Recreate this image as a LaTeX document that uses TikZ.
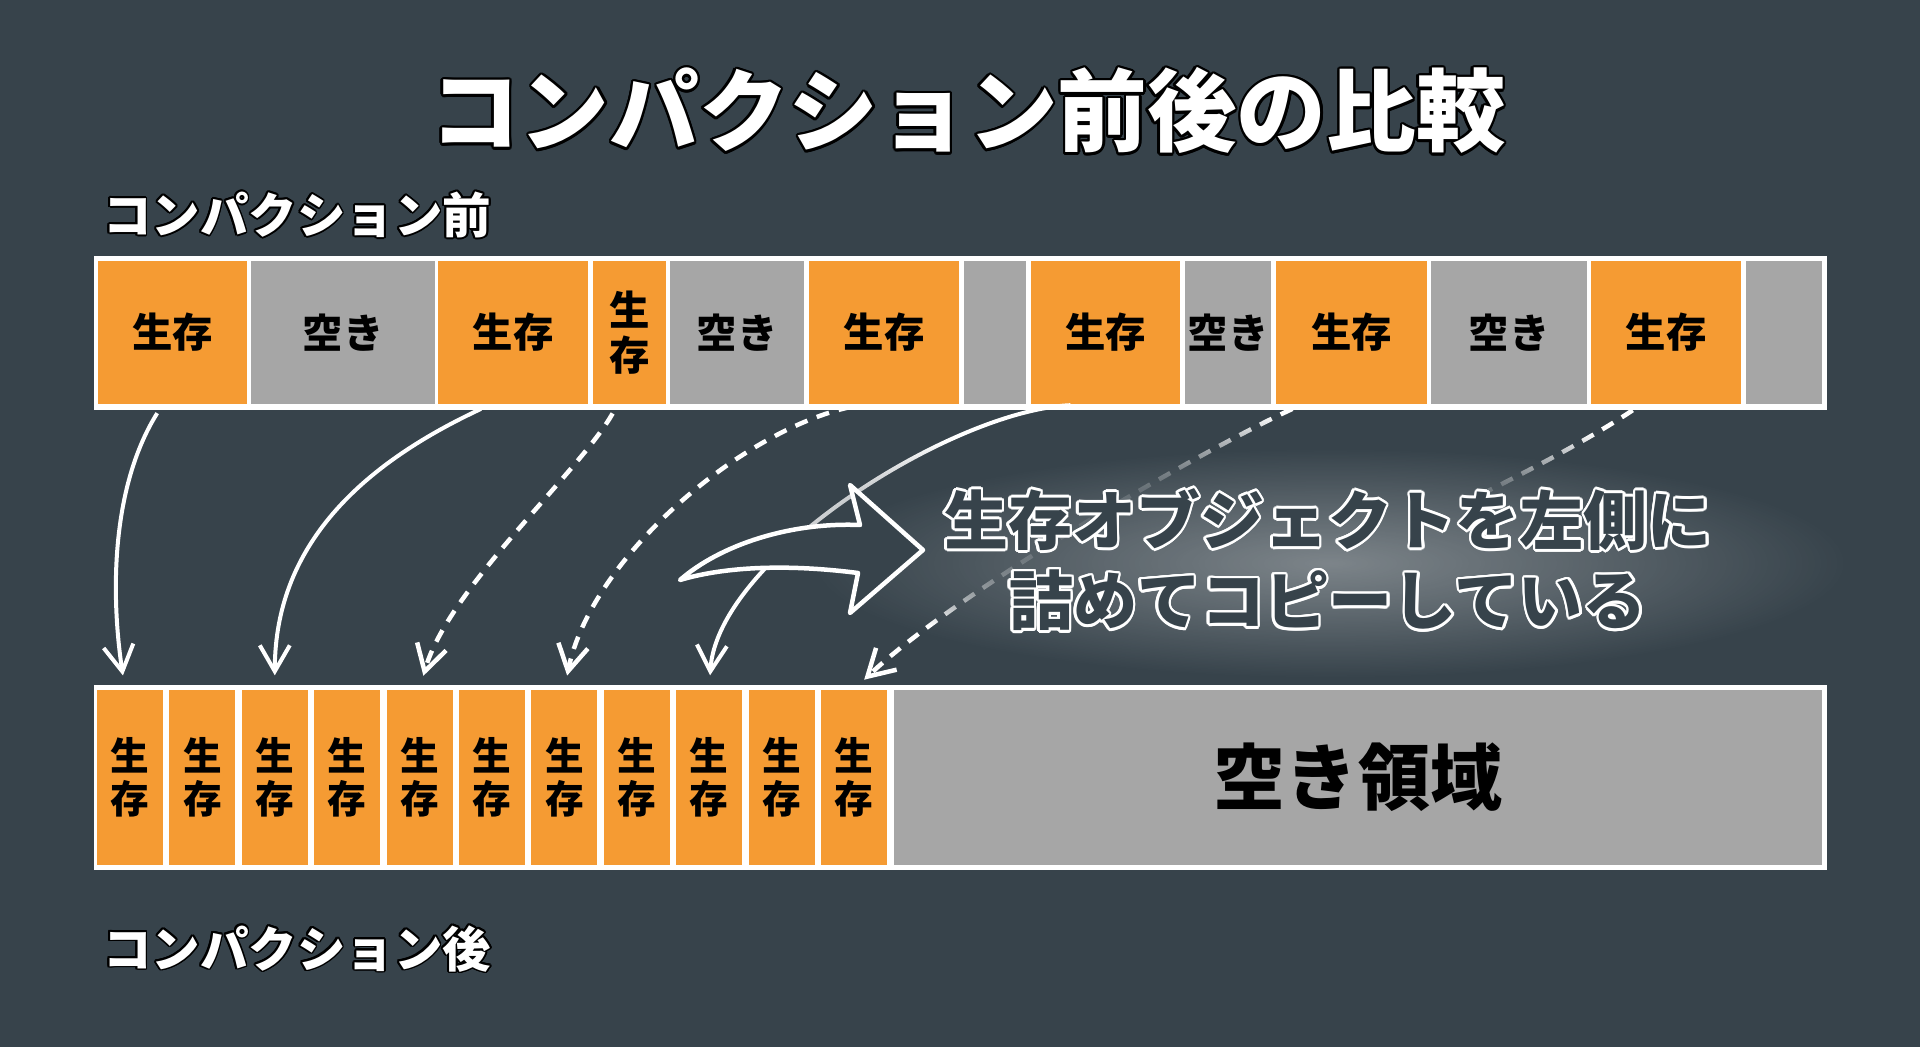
\documentclass[tikz,border=0pt]{standalone}
\usepackage{fontspec}
\usepackage{xcolor}
\usepackage{contour}
\newfontfamily\jp{Noto Sans CJK JP}
\usetikzlibrary{positioning, arrows.meta, fadings}

\definecolor{board}{HTML}{37434B}
\definecolor{liveorange}{HTML}{F59B33}
\definecolor{freegray}{HTML}{A6A6A6}

\tikzfading[name=glowfade, inner color=transparent!0, outer color=transparent!100]

\tikzset{
  cell/.style={draw=none, inner sep=0pt, text=black, align=center,
    font=\jp\bfseries\fontsize{11.5}{13}\selectfont},
  live cell/.style={cell, fill=liveorange},
  free cell/.style={cell, fill=freegray},
  heap/.style={fill=white, draw=none, inner sep=0pt},
  sublabel/.style={inner sep=0pt, text=white, font=\jp\bfseries\fontsize{13.8}{16}\selectfont},
  movearrow/.style={draw=white, line width=0.4mm, shorten <=1mm, shorten >=1.4mm,
    -{Straight Barb[length=2.6mm, width=3mm]}},
  copyarrow/.style={movearrow, line width=0.45mm, dash pattern=on 1.3mm off 1mm},
}

\begin{document}
\begin{tikzpicture}[x=0.1mm, y=-0.1mm]
  \fill[board] (0,0) rectangle (1920,1047);
  \useasboundingbox (0,0) rectangle (1920,1047);

  \node[inner sep=0pt, text=white, font=\jp\bfseries\fontsize{25.5}{30}\selectfont] (title) at (968,112)
       {\contourlength{0.7pt}\contour{black}{コンパクション前後の比較}};

  % before compaction
  \node[heap, minimum width=173.3mm, minimum height=15.4mm] (before) at (960.5,333) {};
  \foreach \a/\b/\k/\t [count=\i] in {98/247/live/生存, 251/435/free/空き, 438/588/live/生存,
      593/666/live/{生\\存}, 670/804/free/空き, 809/959/live/生存, 964/1026/free/{},
      1031/1180/live/生存, 1185/1271/free/空き, 1276/1427/live/生存, 1431/1587/free/空き,
      1591/1741/live/生存, 1746/1822/free/{}}
    \node[\k\space cell, minimum width={(\b-\a)*0.1mm}, minimum height=14.3mm] (t\i) at ({(\a+\b)/2},332.5) {\t};

  \node[sublabel, above right=1.5mm and 0.9mm of before.north west] (beforelbl)
       {\contourlength{0.5pt}\contour{black}{コンパクション前}};

  % after compaction
  \node[heap, minimum width=173.3mm, minimum height=18.5mm] (after) at (960.5,777.5) {};
  \foreach \i in {1,...,11}
    \node[live cell, font=\jp\bfseries\fontsize{11}{12.3}\selectfont, minimum width=6.6mm, minimum height=17.5mm]
      (b\i) at ({130+(\i-1)*72.4},777.5) {生\\存};
  \node[free cell, font=\jp\bfseries\fontsize{20.5}{24}\selectfont, minimum width=92.8mm, minimum height=17.5mm]
    (rest) at (1358,777.5) {空き領域};

  \node[sublabel, below right=5.4mm and 0.9mm of after.south west] (afterlbl)
       {\contourlength{0.5pt}\contour{black}{コンパクション後}};

  % moves
  \coordinate (lost) at (1450,510);
  \draw[movearrow] ([xshift=-1mm]t1.south) .. controls +(-50,80) and +(-15,-100) .. ([xshift=-0.5mm]b1.north);
  \draw[movearrow] ([xshift=-2.3mm]t3.south) .. controls +(-120,56) and +(0,-150) .. (b3.north);
  \draw[copyarrow] ([xshift=-1.2mm]t4.south) .. controls +(-37,66) and +(28,-100) .. (b5.north);
  \draw[copyarrow] ([xshift=-2.3mm]t6.south) .. controls +(-121,26) and +(26,-130) .. (b7.north);
  \draw[movearrow] ([xshift=-2.5mm]t8.south) .. controls +(-130,6) and +(8,-130) .. (b9.north);
  \draw[copyarrow] ([xshift=-5mm]t10.south) .. controls +(-100,46) and +(106,-100) .. (b11.north);
  \draw[copyarrow, -] ([xshift=-2.5mm]t12.south) .. controls +(-60,40) and +(60,-30) .. (lost);

  % glow behind the note
  \fill[board, path fading=glowfade] (1300,535) ellipse (560 and 120);
  \fill[board, path fading=glowfade] (1300,535) ellipse (560 and 120);
  \fill[board, path fading=glowfade] (1330,563) ellipse (480 and 105);
  \fill[white, fill opacity=0.35, path fading=glowfade] (1330,563) ellipse (520 and 115);

  % big hollow arrow
  \draw[white, line width=0.45mm, fill=board, line join=round]
    (680,580) .. controls (720,545) and (790,522) .. (860,525) -- (850,485) -- (923,550)
    -- (850,613) -- (858,573) .. controls (780,563) and (720,568) .. cycle;

  \node[inner sep=0pt, text=board, align=center, font=\jp\bfseries\fontsize{18.2}{22.8}\selectfont] (note) at (1328,561)
       {\contourlength{0.75pt}\contour{white}{生存オブジェクトを左側に}\\\contourlength{0.75pt}\contour{white}{詰めてコピーしている}};
\end{tikzpicture}
\end{document}
